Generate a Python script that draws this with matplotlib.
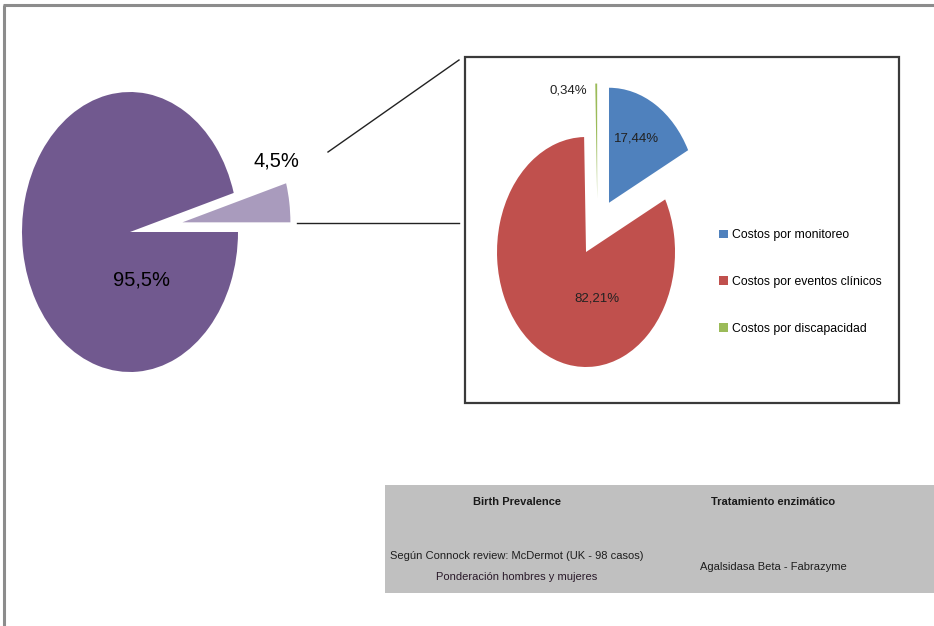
import matplotlib
matplotlib.use("Agg")
import matplotlib.pyplot as plt
from matplotlib.patches import Rectangle

W, H = 934, 626

# Main split: share of the total
main_values = [4.5, 95.5]
main_colors = ["#A99BBD", "#71598F"]

# Breakdown of the 4.5% share
sub_labels = ["Costos por monitoreo", "Costos por eventos clínicos", "Costos por discapacidad"]
sub_values = [17.44, 82.21, 0.34]
sub_colors = ["#4F81BD", "#C0504D", "#9BBB59"]

# Info table under the charts
table_headers = ["Birth Prevalence", "Tratamiento enzimático"]
table_cells = [
    ["Según Connock review: McDermot (UK - 98 casos)", "Ponderación hombres y mujeres"],
    ["Agalsidasa Beta - Fabrazyme"],
]


def pct(v, nd):
    return f"{v:.{nd}f}".replace(".", ",") + "%"


def fx(px):
    return px / W


def fy(py):
    return 1 - py / H


def pie_axes(fig, cx, cy, rx, ry, span):
    # axes placed so that a unit pie maps to an rx by ry ellipse centred at (cx, cy) px
    ax = fig.add_axes([fx(cx - span * rx), fy(cy + span * ry),
                       2 * span * rx / W, 2 * span * ry / H])
    return ax


fig = plt.figure(figsize=(W / 100, H / 100), dpi=100)
plt.rcParams["font.family"] = ["Liberation Sans", "DejaVu Sans"]

bg = fig.add_axes([0, 0, 1, 1])
bg.set_xlim(0, W)
bg.set_ylim(H, 0)
bg.axis("off")

# outer frame (top and left edge)
bg.plot([3, W], [5, 5], color="#8C8C8C", lw=2.2, solid_capstyle="butt")
bg.plot([3.5, 3.5], [5, H], color="#8C8C8C", lw=2.2, solid_capstyle="butt")

# connector lines and inset box
bg.plot([328, 459], [152, 60], color="#222222", lw=1.0)
bg.plot([297, 459], [223, 223], color="#222222", lw=1.0)
bg.add_patch(Rectangle((465, 57), 434, 346, facecolor="white",
                       edgecolor="#3A3A3A", lw=1.6))

# table
bg.add_patch(Rectangle((385, 485), W - 385, 108, facecolor="#C0C0C0", edgecolor="none"))
col_x = [517, 773]
for x, head in zip(col_x, table_headers):
    bg.text(x, 502, head, ha="center", va="center", fontsize=8,
            fontweight="bold", color="#1A1A1A")
bg.text(col_x[0], 556, table_cells[0][0], ha="center", va="center", fontsize=8, color="#1E1E1E")
bg.text(col_x[0], 577, table_cells[0][1], ha="center", va="center", fontsize=8, color="#2A1A2A")
bg.text(col_x[1], 567, table_cells[1][0], ha="center", va="center", fontsize=8, color="#1E1E1E")

# big pie
ax1 = pie_axes(fig, 130, 232, 108, 140, 1.6)
ax1.pie(main_values, colors=main_colors, startangle=0, counterclock=True,
        explode=[0.49, 0], wedgeprops=dict(linewidth=0))
ax1.set_aspect("auto")
ax1.set_xlim(-1.6, 1.6)
ax1.set_ylim(-1.6, 1.6)
ax1.axis("off")
ax1.text(1.36, 0.51, pct(main_values[0], 1), ha="center", va="center", fontsize=14.5)
ax1.text(0.11, -0.34, pct(main_values[1], 1), ha="center", va="center", fontsize=14.5)

# inset pie
ax2 = pie_axes(fig, 597.4, 227.3, 89, 115, 1.3)
wedges, _ = ax2.pie(sub_values, colors=sub_colors, startangle=90, counterclock=False,
                    explode=[0.25, 0.25, 0.25], wedgeprops=dict(linewidth=0))
ax2.set_aspect("auto")
ax2.set_xlim(-1.3, 1.3)
ax2.set_ylim(-1.3, 1.3)
ax2.axis("off")
ax2.text(0.445, 0.77, pct(sub_values[0], 2), ha="center", va="center", fontsize=9.5, color="#222222")
ax2.text(0.0, -0.62, pct(sub_values[1], 2), ha="center", va="center", fontsize=9.5, color="#222222")
ax2.text(-0.33, 1.19, pct(sub_values[2], 2), ha="center", va="center", fontsize=9.5, color="#222222")

fig.legend(wedges, sub_labels, loc="center left", bbox_to_anchor=(fx(719), fy(282)),
           frameon=False, fontsize=8.8, handlelength=0.7, handleheight=0.7,
           handletextpad=0.4, labelspacing=2.85, borderpad=0, borderaxespad=0)

fig.savefig("out.png", dpi=100)
